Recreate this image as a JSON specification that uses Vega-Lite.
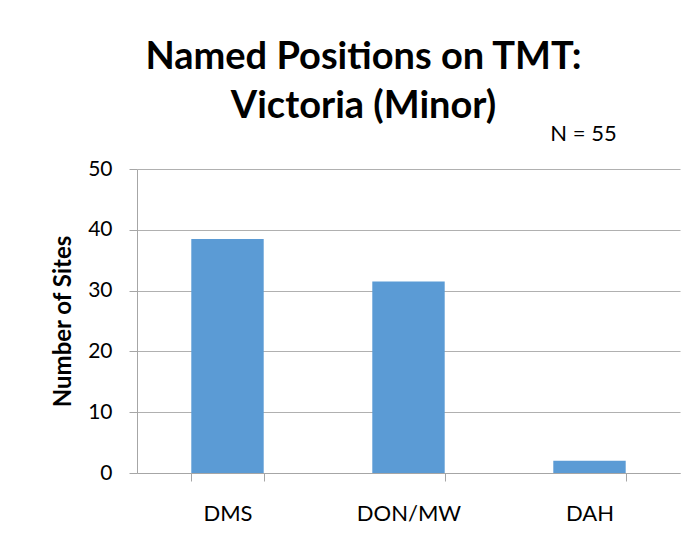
{
  "$schema": "https://vega.github.io/schema/vega-lite/v6.json",
  "autosize": {"type": "none"},
  "width": 543,
  "height": 304,
  "padding": {"left": 137, "top": 169, "right": 17, "bottom": 60},
  "background": "white",
  "title": {
    "text": ["Named Positions on TMT:", "Victoria (Minor)"],
    "font": "Lato",
    "fontSize": 38,
    "fontWeight": "bold",
    "color": "#000000",
    "anchor": "middle",
    "frame": "group",
    "dx": -45,
    "lineHeight": 49,
    "offset": -3
  },
  "config": {
    "view": {"stroke": null},
    "font": "Lato"
  },
  "data": {
    "values": [
      {"category": "DMS", "sites": 38.5},
      {"category": "DON/MW", "sites": 31.5},
      {"category": "DAH", "sites": 2}
    ]
  },
  "layer": [
    {
      "mark": {"type": "bar", "color": "#5B9BD5"},
      "encoding": {
        "x": {
          "field": "category",
          "type": "nominal",
          "sort": null,
          "scale": {"domain": ["DMS", "DON/MW", "DAH"], "paddingInner": 0.6, "paddingOuter": 0.3},
          "axis": {
            "title": null,
            "labelAngle": 0,
            "labelFont": "Lato",
            "labelFontSize": 22,
            "labelColor": "#000000",
            "labelPadding": 22,
            "tickBand": "extent",
            "tickSize": 8,
            "tickColor": "#a6a6a6",
            "domainColor": "#a6a6a6",
            "grid": false
          }
        },
        "y": {
          "field": "sites",
          "type": "quantitative",
          "scale": {"domain": [0, 50]},
          "axis": {
            "title": "Number of Sites",
            "titleFont": "Lato",
            "titleFontSize": 24,
            "titleFontWeight": "bold",
            "titleColor": "#000000",
            "titlePadding": 12,
            "values": [0, 10, 20, 30, 40, 50],
            "labelFont": "Lato",
            "labelFontSize": 21,
            "labelColor": "#000000",
            "labelPadding": 17,
            "tickSize": 8,
            "tickColor": "#a6a6a6",
            "domainColor": "#a6a6a6",
            "gridColor": "#b0b0b0",
            "gridWidth": 1.2
          }
        }
      }
    },
    {
      "data": {"values": [{"category": "DAH", "label": "N = 55", "pos": 50}]},
      "mark": {"type": "text", "font": "Lato", "fontSize": 22, "color": "#000000", "baseline": "alphabetic", "align": "center", "dy": -28, "dx": -6},
      "encoding": {
        "x": {"field": "category", "type": "nominal"},
        "y": {"field": "pos", "type": "quantitative"},
        "text": {"field": "label"}
      }
    }
  ]
}
